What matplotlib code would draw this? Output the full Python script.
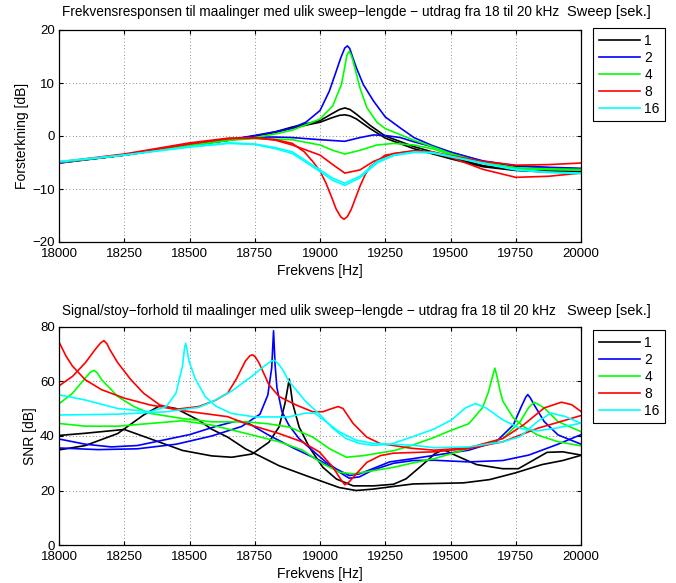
import numpy as np
import matplotlib
matplotlib.use('Agg')
import matplotlib.pyplot as plt

plt.rcParams['font.family'] = ['Liberation Sans', 'DejaVu Sans']
plt.rcParams['font.size'] = 9.5

sweeps = ['1', '2', '4', '8', '16']
colors = ['k', 'b', '#00ff00', 'r', '#00ffff']

# ---- frekvensrespons (Hz, dB) ----
fr_black1_f = [18000, 18250, 18500, 18650, 18750, 18830, 18894, 19000, 19049, 19075, 19095, 19115, 19140, 19192, 19250, 19360, 19500, 19625, 19750, 19875, 20000]
fr_black1_db = [-5.0, -3.6, -1.8, -0.8, 0.0, 0.8, 1.7, 2.9, 4.3, 5.0, 5.3, 5.0, 4.1, 2.0, 0.0, -2.0, -4.0, -5.6, -6.4, -6.6, -6.7]
fr_black2_f = [18000, 18250, 18500, 18650, 18750, 18830, 18894, 19000, 19049, 19075, 19095, 19115, 19140, 19192, 19250, 19360, 19500, 19625, 19750, 19875, 20000]
fr_black2_db = [-5.0, -3.6, -1.8, -0.8, 0.0, 0.7, 1.5, 2.6, 3.5, 3.9, 4.0, 3.8, 3.2, 1.4, -0.4, -2.4, -4.3, -5.8, -6.5, -6.8, -6.9]

fr_blue1_f = [18000, 18250, 18500, 18650, 18750, 18830, 18894, 18946, 19000, 19036, 19062, 19080, 19095, 19105, 19114, 19127, 19140, 19166, 19205, 19250, 19308, 19360, 19430, 19500, 19625, 19750, 19875, 20000]
fr_blue1_db = [-5.1, -3.6, -1.8, -0.7, 0.1, 0.8, 1.5, 2.6, 4.8, 8.5, 12.2, 14.8, 16.6, 17.0, 16.5, 14.6, 12.8, 9.7, 6.6, 3.6, 1.5, -0.3, -1.8, -3.0, -4.8, -5.7, -6.0, -6.2]
fr_blue2_f = [18000, 18250, 18500, 18650, 18750, 18830, 18894, 19000, 19095, 19153, 19205, 19250, 19308, 19360, 19430, 19500, 19625, 19750, 19875, 20000]
fr_blue2_db = [-5.1, -3.6, -1.8, -0.7, -0.2, -0.2, -0.3, -0.7, -1.0, -0.3, 0.2, 0.1, -0.3, -1.1, -2.0, -3.1, -4.7, -5.6, -5.9, -6.1]

fr_green1_f = [18000, 18250, 18500, 18650, 18750, 18830, 18894, 19000, 19049, 19082, 19094, 19103, 19111, 19119, 19127, 19153, 19179, 19218, 19250, 19360, 19430, 19500, 19625, 19750, 19875, 20000]
fr_green1_db = [-5.0, -3.6, -1.8, -0.8, -0.3, 0.4, 1.1, 3.2, 5.7, 9.7, 12.8, 15.2, 16.0, 15.3, 14.1, 9.1, 5.4, 2.6, 1.4, -0.8, -2.0, -3.3, -5.0, -6.0, -6.2, -6.3]
fr_green2_f = [18000, 18250, 18500, 18650, 18750, 18830, 18894, 19000, 19049, 19095, 19153, 19218, 19282, 19360, 19430, 19500, 19625, 19750, 19875, 20000]
fr_green2_db = [-5.0, -3.6, -1.8, -0.8, -0.5, -0.6, -0.7, -1.7, -2.7, -3.4, -2.7, -1.7, -1.4, -1.7, -2.4, -3.5, -5.2, -6.1, -6.3, -6.4]

fr_red1_f = [18000, 18250, 18500, 18650, 18750, 18830, 18894, 19000, 19049, 19095, 19153, 19205, 19282, 19360, 19430, 19500, 19625, 19750, 19875, 20000]
fr_red1_db = [-4.9, -3.4, -1.3, -0.4, -0.3, -0.8, -1.7, -3.6, -5.4, -7.0, -6.4, -4.8, -3.3, -2.8, -3.0, -3.7, -4.8, -5.5, -5.4, -5.1]
fr_red2_f = [18000, 18250, 18500, 18650, 18750, 18830, 18894, 18940, 18972, 19000, 19023, 19045, 19062, 19080, 19092, 19105, 19120, 19137, 19153, 19172, 19192, 19250, 19360, 19430, 19500, 19625, 19750, 19875, 20000]
fr_red2_db = [-5.0, -3.5, -1.5, -0.5, -0.4, -0.7, -1.4, -3.0, -4.8, -6.6, -8.9, -11.6, -13.8, -15.3, -15.7, -15.2, -13.8, -11.6, -9.5, -7.4, -5.8, -3.6, -2.8, -3.1, -4.0, -6.3, -7.8, -7.6, -7.0]

fr_cyan1_f = [18000, 18250, 18500, 18650, 18750, 18830, 18894, 19000, 19050, 19095, 19153, 19218, 19282, 19360, 19430, 19500, 19625, 19750, 19875, 20000]
fr_cyan1_db = [-4.8, -3.6, -2.0, -1.3, -1.5, -2.2, -3.0, -6.4, -8.0, -8.9, -7.6, -4.8, -3.6, -3.0, -3.1, -3.8, -5.1, -6.3, -6.8, -7.0]
fr_cyan2_f = [18000, 18250, 18500, 18650, 18750, 18830, 18894, 19000, 19050, 19095, 19153, 19218, 19282, 19360, 19430, 19500, 19625, 19750, 19875, 20000]
fr_cyan2_db = [-4.9, -3.6, -2.1, -1.4, -1.6, -2.4, -3.3, -6.7, -8.4, -9.3, -7.9, -5.1, -3.7, -3.1, -3.2, -3.9, -5.2, -6.4, -6.9, -7.1]

# ---- SNR (Hz, dB) ----
snr_black1_f = [18000, 18100, 18250, 18349, 18473, 18585, 18662, 18740, 18804, 18843, 18866, 18876, 18882, 18888, 18895, 18920, 18959, 19011, 19063, 19127, 19205, 19282, 19330, 19390, 19440, 19473, 19517, 19600, 19700, 19760, 19870, 19930, 20000]
snr_black1_db = [40.2, 41.0, 42.4, 39.0, 34.7, 32.7, 32.2, 33.4, 37.7, 43.3, 52.0, 57.5, 60.9, 57.0, 52.0, 43.3, 35.9, 28.5, 24.2, 21.7, 21.7, 22.3, 24.3, 29.2, 33.5, 35.0, 33.0, 29.5, 28.0, 28.0, 34.0, 34.2, 33.0]
snr_black2_f = [18000, 18101, 18225, 18324, 18386, 18448, 18535, 18585, 18646, 18714, 18843, 18945, 19073, 19138, 19202, 19282, 19357, 19450, 19550, 19650, 19750, 19850, 19930, 20000]
snr_black2_db = [34.9, 36.5, 40.9, 47.7, 51.1, 50.1, 45.8, 42.5, 39.6, 35.3, 29.1, 25.5, 21.1, 20.0, 20.5, 21.5, 22.4, 22.6, 22.8, 24.0, 26.5, 29.5, 31.0, 32.9]

snr_blue1_f = [18000, 18150, 18300, 18450, 18585, 18700, 18770, 18800, 18815, 18822, 18828, 18835, 18854, 18880, 18919, 18970, 19022, 19061, 19112, 19151, 19202, 19267, 19357, 19438, 19570, 19675, 19741, 19770, 19788, 19796, 19806, 19820, 19859, 19912, 20000]
snr_blue1_db = [35.6, 35.0, 35.3, 37.0, 40.0, 43.5, 48.0, 55.0, 65.0, 78.6, 66.0, 57.7, 49.0, 44.1, 39.1, 34.8, 30.5, 28.0, 25.5, 26.1, 28.0, 30.5, 31.7, 32.9, 34.8, 37.9, 44.1, 50.5, 54.2, 55.2, 54.0, 51.5, 45.3, 40.4, 37.0]
snr_blue2_f = [18000, 18100, 18200, 18300, 18400, 18500, 18600, 18680, 18720, 18800, 18900, 19000, 19061, 19112, 19151, 19202, 19282, 19357, 19438, 19570, 19700, 19800, 19912, 20000]
snr_blue2_db = [38.9, 37.0, 36.0, 36.5, 38.5, 40.5, 43.5, 45.5, 45.0, 40.5, 35.5, 31.0, 27.5, 24.5, 25.0, 27.5, 30.0, 31.0, 31.1, 30.5, 31.0, 33.0, 37.0, 40.5]

snr_green1_f = [18000, 18052, 18101, 18120, 18135, 18148, 18163, 18225, 18287, 18349, 18473, 18585, 18714, 18800, 18882, 18972, 19037, 19101, 19166, 19282, 19350, 19438, 19500, 19570, 19622, 19645, 19660, 19670, 19678, 19690, 19701, 19741, 19780, 19833, 19912, 20000]
snr_green1_db = [51.8, 55.7, 61.3, 63.4, 64.1, 63.0, 60.7, 54.5, 50.8, 48.3, 46.4, 45.2, 45.2, 44.5, 43.3, 39.6, 35.3, 32.2, 32.8, 34.6, 36.5, 39.5, 42.0, 44.5, 50.3, 56.0, 61.5, 64.9, 62.0, 56.5, 52.7, 46.6, 43.5, 40.4, 37.9, 36.4]
snr_green2_f = [18000, 18101, 18225, 18349, 18473, 18585, 18714, 18843, 18933, 19011, 19075, 19127, 19205, 19282, 19350, 19438, 19570, 19701, 19767, 19800, 19820, 19838, 19859, 19912, 20000]
snr_green2_db = [44.6, 43.6, 43.6, 44.6, 45.6, 44.0, 41.0, 37.9, 34.8, 29.8, 26.7, 26.1, 27.3, 28.5, 30.0, 31.7, 35.4, 39.1, 45.3, 50.5, 52.4, 51.5, 50.3, 45.3, 41.6]

snr_red1_f = [18000, 18027, 18052, 18101, 18163, 18250, 18349, 18473, 18646, 18714, 18843, 18933, 18998, 19050, 19080, 19095, 19110, 19127, 19179, 19231, 19282, 19438, 19570, 19701, 19833, 20000]
snr_red1_db = [74.5, 69.3, 65.6, 60.6, 57.0, 53.9, 51.4, 49.3, 47.1, 44.6, 40.9, 37.8, 34.1, 28.5, 24.0, 22.1, 23.0, 24.8, 30.3, 32.8, 33.7, 34.2, 35.4, 37.9, 42.8, 47.5]
snr_red2_f = [18000, 18052, 18101, 18139, 18160, 18172, 18184, 18194, 18225, 18275, 18324, 18386, 18448, 18535, 18597, 18646, 18680, 18714, 18732, 18742, 18752, 18766, 18804, 18843, 18908, 18972, 19011, 19037, 19069, 19088, 19127, 19179, 19231, 19282, 19350, 19438, 19570, 19701, 19780, 19859, 19925, 19964, 20000]
snr_red2_db = [58.4, 61.9, 66.9, 71.8, 74.2, 75.0, 73.8, 71.8, 66.9, 60.7, 55.7, 51.4, 49.8, 50.8, 53.0, 55.7, 61.0, 67.5, 69.5, 69.8, 69.0, 66.9, 58.9, 54.5, 51.4, 48.9, 48.9, 49.8, 50.8, 50.1, 44.6, 39.6, 37.2, 36.5, 35.5, 34.8, 35.7, 39.1, 44.1, 50.3, 52.4, 51.5, 49.0]

snr_cyan1_f = [18000, 18101, 18225, 18349, 18411, 18448, 18473, 18481, 18485, 18490, 18498, 18522, 18560, 18600, 18660, 18750, 18880, 18945, 18980, 19022, 19073, 19138, 19202, 19357, 19438, 19570, 19701, 19767, 19833, 19885, 19938, 20000]
snr_cyan1_db = [55.1, 53.2, 50.1, 48.9, 50.8, 55.7, 65.6, 72.2, 74.0, 72.0, 67.5, 61.0, 54.5, 51.0, 48.3, 47.0, 47.0, 48.4, 48.4, 45.3, 41.6, 38.5, 37.3, 36.6, 35.7, 36.0, 37.9, 39.8, 45.3, 48.4, 47.2, 44.7]
snr_cyan2_f = [18000, 18225, 18411, 18535, 18585, 18662, 18740, 18791, 18812, 18825, 18840, 18856, 18880, 18945, 19000, 19048, 19099, 19151, 19202, 19267, 19357, 19438, 19504, 19557, 19596, 19636, 19701, 19767, 19833, 19899, 20000]
snr_cyan2_db = [47.7, 48.0, 48.9, 50.5, 52.5, 56.5, 62.0, 66.0, 67.4, 67.8, 66.6, 64.5, 60.2, 52.7, 47.8, 42.9, 39.1, 37.3, 36.6, 36.9, 39.8, 42.6, 45.9, 50.3, 51.9, 50.3, 45.9, 42.8, 41.9, 42.8, 44.7]

fr_curves = [
    (fr_black1_f, fr_black1_db, 0), (fr_black2_f, fr_black2_db, 0),
    (fr_blue1_f, fr_blue1_db, 1), (fr_blue2_f, fr_blue2_db, 1),
    (fr_green1_f, fr_green1_db, 2), (fr_green2_f, fr_green2_db, 2),
    (fr_red1_f, fr_red1_db, 3), (fr_red2_f, fr_red2_db, 3),
    (fr_cyan1_f, fr_cyan1_db, 4), (fr_cyan2_f, fr_cyan2_db, 4),
]
snr_curves = [
    (snr_black1_f, snr_black1_db, 0), (snr_black2_f, snr_black2_db, 0),
    (snr_blue1_f, snr_blue1_db, 1), (snr_blue2_f, snr_blue2_db, 1),
    (snr_green1_f, snr_green1_db, 2), (snr_green2_f, snr_green2_db, 2),
    (snr_red1_f, snr_red1_db, 3), (snr_red2_f, snr_red2_db, 3),
    (snr_cyan1_f, snr_cyan1_db, 4), (snr_cyan2_f, snr_cyan2_db, 4),
]

W, H = 676, 583
fig = plt.figure(figsize=(W / 100, H / 100), dpi=100)


def make_axes(top, bottom):
    return fig.add_axes([59 / W, 1 - bottom / H, (581 - 59) / W, (bottom - top) / H])


def style(ax, ylim, yticks):
    ax.set_xlim(18000, 20000)
    ax.set_ylim(*ylim)
    ax.set_xticks(np.arange(18000, 20001, 250))
    ax.set_yticks(yticks)
    ax.grid(True, linestyle=(0, (1, 3)), color='k', linewidth=0.6, alpha=0.6)
    ax.tick_params(direction='in', top=True, right=True, length=3, labelsize=9.5)
    ax.tick_params(axis='x', pad=4.5)
    ax.tick_params(axis='y', pad=3)
    for s in ax.spines.values():
        s.set_linewidth(0.9)
    ax.set_xlabel('Frekvens [Hz]', fontsize=10, labelpad=3)


def draw(ax, curves):
    handles = {}
    for f, v, ci in curves:
        ln, = ax.plot(f, v, color=colors[ci], linewidth=1.2)
        handles.setdefault(ci, ln)
    return [handles[i] for i in range(5)]


ax1 = make_axes(30, 242)
h1 = draw(ax1, fr_curves)
style(ax1, (-20, 20), [-20, -10, 0, 10, 20])
ax1.set_ylabel('Forsterkning [dB]', fontsize=10, labelpad=2)
fig.text(62 / W, 1 - 12 / H,
         'Frekvensresponsen til maalinger med ulik sweep\u2212lengde \u2212 utdrag fra 18 til 20 kHz',
         ha='left', va='center', fontsize=9.8)

ax2 = make_axes(327, 545)
h2 = draw(ax2, snr_curves)
style(ax2, (0, 80), [0, 20, 40, 60, 80])
ax2.set_ylabel('SNR [dB]', fontsize=10, labelpad=2)
fig.text(62 / W, 1 - 311 / H,
         'Signal/stoy\u2212forhold til maalinger med ulik sweep\u2212lengde \u2212 utdrag fra 18 til 20 kHz',
         ha='left', va='center', fontsize=9.8)

for h, ytop, ytitle in [(h1, 28, 12), (h2, 330, 311)]:
    leg = fig.legend(h, sweeps, loc='upper left', bbox_to_anchor=(593 / W, 1 - ytop / H),
                     bbox_transform=fig.transFigure, borderaxespad=0, fancybox=False,
                     framealpha=1, edgecolor='k', handlelength=3.0, handletextpad=0.3,
                     borderpad=0.4, labelspacing=0.22, fontsize=10)
    leg.get_frame().set_linewidth(0.8)
    fig.text(567 / W, 1 - ytitle / H, 'Sweep [sek.]', ha='left', va='center', fontsize=10.5)

fig.savefig('out.png', dpi=100)
